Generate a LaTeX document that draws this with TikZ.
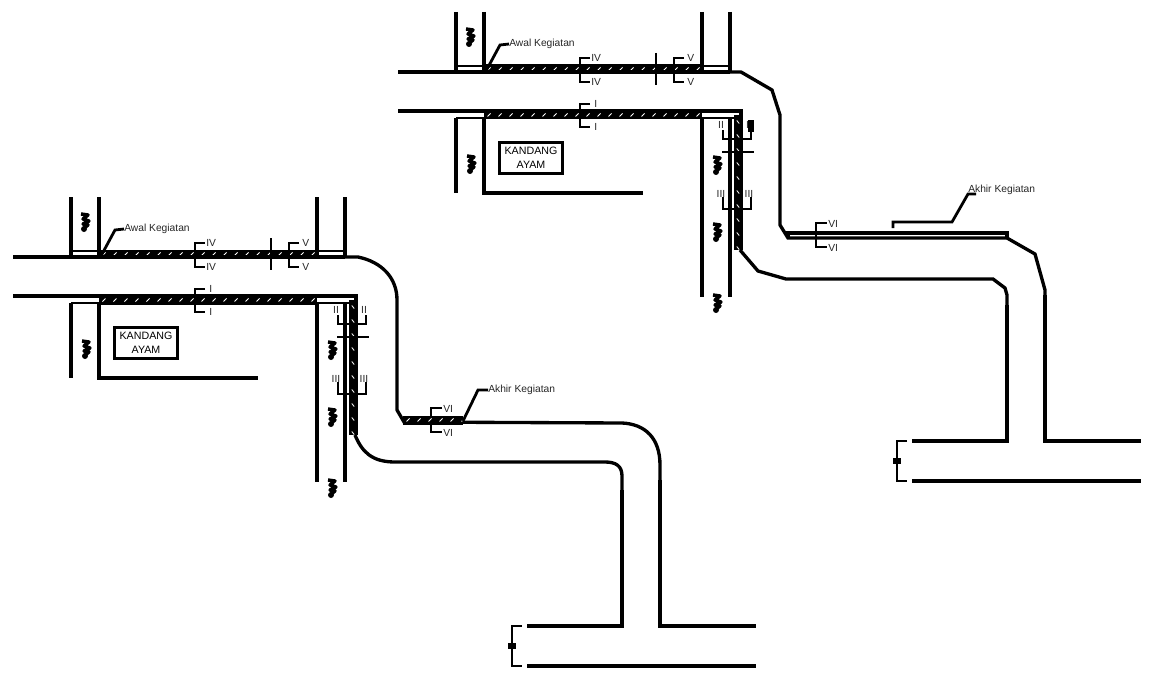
\documentclass[tikz,border=0pt]{standalone}
\usepackage{fontspec}
\setmainfont{Liberation Sans}
\tikzset{
  wall/.style={line width=2.5pt},
  thinwall/.style={line width=1.6pt},
  sect/.style={line width=2.1pt},
  lbl/.style={font=\fontsize{7.7}{9}\selectfont, inner sep=0pt, text=black!85},
  zigzag/.pic={
    \draw[line width=2.6pt, line join=round] (-4,-8) -- (3,-7) -- (-2,-3) -- (4,-1) -- (-2,2) -- (3,3) -- (-2,7);
    \fill (-1,7) circle (3);
  }
}
\newcommand{\hband}[3]{% x from, x to, y
  \fill (#1,#3-4.5) rectangle (#2,#3+4.5);
  \foreach \s in {#1,...,#2} {
    \pgfmathparse{int(mod(\s-#1,11))}
    \ifnum\pgfmathresult=5
      \draw[white, line width=0.6pt] (\s-1.5,#3+1.5) -- (\s+1.5,#3-1.5);
    \fi
  }
}
\newcommand{\vband}[3]{% y from, y to, x
  \fill (#3-4.5,#1) rectangle (#3+4.5,#2);
  \foreach \s in {#1,...,#2} {
    \pgfmathparse{int(mod(\s-#1,14))}
    \ifnum\pgfmathresult=7
      \draw[white, line width=0.6pt] (#3-1.2,\s-1.5) -- (#3+1.2,\s+1.5);
    \fi
  }
}
\begin{document}
\begin{tikzpicture}[x=0.75pt, y=-0.75pt]
  \useasboundingbox (0,0) rectangle (1154,685);
  \foreach \dx/\dy/\tag in {0/0/A, 385/-185/B} {
    \begin{scope}[shift={(\dx,\dy)}]
      % hatched bands
      \hband{99}{317}{254}
      \hband{99}{317}{300}
      \vband{300}{435}{353}
      % road and walls
      \draw[wall] (13,257) -- (345,257);
      \draw[wall] (13,296) -- (356,296) -- (356,303);
      \draw[thinwall] (71,251) -- (99,251);
      \draw[thinwall] (317,251) -- (345,251);
      \draw[thinwall] (71,303) -- (99,303);
      \draw[thinwall] (317,303) -- (349,303);
      \draw[wall] (71,197) -- (71,257);
      \draw[wall] (99,197) -- (99,257);
      \draw[wall] (317,197) -- (317,257);
      \draw[wall] (345,197) -- (345,257);
      \draw[wall] (71,303) -- (71,378);
      \draw[wall] (99,303) -- (99,378) -- (258,378);
      \draw[wall] (317,303) -- (317,482);
      \draw[wall] (345,303) -- (345,482);
      \node[draw, line width=2.2pt, minimum width=47.5pt, minimum height=23pt, inner sep=0pt, align=center,
        font=\fontsize{8}{10.5}\selectfont] (kandang\tag) at (146,343) {KANDANG\\AYAM};
      % awal leader
      \node[lbl, anchor=west] (awal\tag) at (124,229) {Awal Kegiatan};
      \draw[sect] (101,256) -- (115,230) -- (awal\tag.west);
      % sections along the road
      \draw[sect] (205,243) -- (195,243) -- (195,267) -- (205,267);
      \draw[sect] (205,289) -- (195,289) -- (195,312) -- (205,312);
      \draw[sect] (299,243) -- (289,243) -- (289,267) -- (299,267);
      \draw[sect] (271,238) -- (271,270);
      \node[lbl, anchor=west] (ivA\tag) at (206,243) {IV};
      \node[lbl, anchor=west] (ivB\tag) at (206,267) {IV};
      \node[lbl, anchor=west] (iA\tag) at (209,289) {I};
      \node[lbl, anchor=west] (iB\tag) at (209,312) {I};
      \node[lbl, anchor=west] (vA\tag) at (302,243) {V};
      \node[lbl, anchor=west] (vB\tag) at (302,267) {V};
      % sections along the side road
      \draw[sect] (338,315) -- (338,324) -- (366,324) -- (366,315);
      \draw[sect] (337,337) -- (369,337);
      \draw[sect] (338,382) -- (338,394) -- (366,394) -- (366,382);
      \node[lbl] (iiA\tag) at (336,310) {II};
      \node[lbl] (iiB\tag) at (364,310) {II};
      \node[lbl] (iiiA\tag) at (336,379) {III};
      \node[lbl] (iiiB\tag) at (364,379) {III};
      % section on the last stretch
      \draw[sect] (442,408) -- (431,408) -- (431,432) -- (442,432);
      \node[lbl, anchor=west] (viA\tag) at (443,409) {VI};
      \node[lbl, anchor=west] (viB\tag) at (443,433) {VI};
      % main road at the bottom
      \draw[wall] (527,626) -- (622,626) -- (622,490);
      \draw[wall] (660,480) -- (660,626) -- (756,626);
      \draw[wall] (527,666) -- (756,666);
      \draw[line width=0.8pt] (522,626) -- (512,626) -- (512,666) -- (522,666);
      \fill (508,643) rectangle (516,649);
      % symbols
      \path (85,222) pic {zigzag};
      \path (86,349) pic {zigzag};
      \path (332,350) pic {zigzag};
      \path (332,417) pic {zigzag};
      \path (332,488) pic {zigzag};
    \end{scope}
  }
  % left plan, road bends
  \draw[wall] (345,257) -- (358,257) .. controls (382,262) and (397,278) .. (397,300) -- (397,410) -- (404,422) -- (622,423)
    .. controls (645,424) and (660,438) .. (660,465) -- (660,480);
  \draw[wall] (355,435) .. controls (362,452) and (372,462) .. (395,462) -- (605,462)
    .. controls (616,462) and (622,466) .. (622,476) -- (622,490);
  \hband{403}{463}{420}
  \node[lbl, anchor=west] (akhirA) at (488,390) {Akhir Kegiatan};
  \draw[sect] (463,421) -- (478,390) -- (akhirA.west);
  % right plan, road bends
  \draw[wall] (730,72) -- (741,72) -- (772,90) -- (780,115) -- (780,225) -- (788,238) -- (1007,238) -- (1035,254)
    -- (1045,290) -- (1045,295);
  \draw[wall] (788,238) -- (788,233) -- (1007,233) -- (1007,238);
  \draw[wall] (740,250) -- (758,271) -- (786,279) -- (993,279) -- (1005,288) -- (1007,295) -- (1007,305);
  \fill (748,120) rectangle (754,132);
  \node[lbl, anchor=west] (akhirB) at (968,190) {Akhir Kegiatan};
  \draw[sect] (893,228) -- (893,222) -- (952,222) -- (968,194) -- (976,194);
\end{tikzpicture}
\end{document}
